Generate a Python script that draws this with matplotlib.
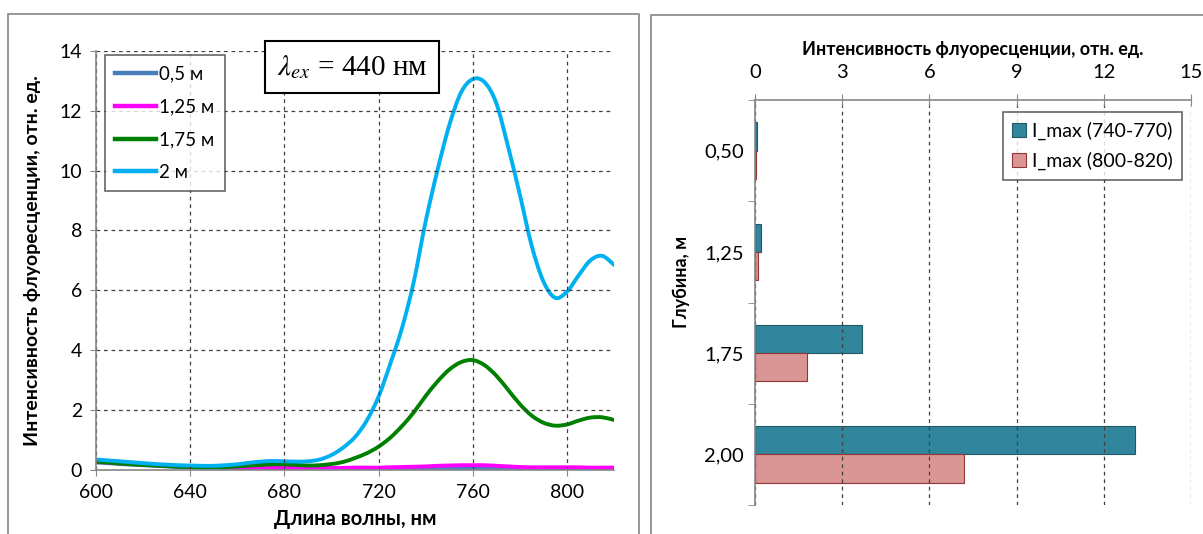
import numpy as np
import matplotlib
matplotlib.use("Agg")
import matplotlib.pyplot as plt
from matplotlib.patches import Rectangle, PathPatch
from matplotlib.path import Path
from matplotlib.lines import Line2D

plt.rcParams['font.family'] = ['Lato', 'DejaVu Sans']
plt.rcParams['mathtext.fontset'] = 'stix'

# Спектры флуоресценции (нм / отн. ед.)
wl = list(range(600, 825, 5))
I_05 = [0.25, 0.23, 0.20, 0.18, 0.16, 0.14, 0.12, 0.10, 0.09, 0.08, 0.07, 0.06, 0.05, 0.05, 0.04,
        0.04, 0.03, 0.03, 0.03, 0.02, 0.02, 0.02, 0.02, 0.02, 0.02, 0.02, 0.03, 0.03, 0.03, 0.03,
        0.04, 0.04, 0.04, 0.04, 0.03, 0.03, 0.02, 0.02, 0.02, 0.02, 0.02, 0.02, 0.02, 0.02, 0.02]
I_125 = [0.27, 0.25, 0.22, 0.20, 0.18, 0.16, 0.14, 0.12, 0.11, 0.10, 0.09, 0.09, 0.08, 0.08, 0.08,
         0.07, 0.07, 0.07, 0.07, 0.07, 0.07, 0.07, 0.08, 0.08, 0.08, 0.09, 0.10, 0.11, 0.12, 0.14,
         0.15, 0.16, 0.16, 0.16, 0.14, 0.12, 0.10, 0.09, 0.09, 0.09, 0.09, 0.09, 0.08, 0.08, 0.08]
I_175 = [0.28, 0.25, 0.22, 0.19, 0.17, 0.15, 0.13, 0.11, 0.10, 0.09, 0.09, 0.10, 0.12, 0.15, 0.17,
         0.19, 0.19, 0.17, 0.15, 0.16, 0.20, 0.27, 0.40, 0.56, 0.78, 1.08, 1.47, 1.93, 2.47, 2.95,
         3.35, 3.60, 3.67, 3.50, 3.15, 2.68, 2.20, 1.82, 1.58, 1.48, 1.52, 1.65, 1.75, 1.76, 1.67]
I_2 = [0.35, 0.32, 0.29, 0.26, 0.23, 0.20, 0.18, 0.16, 0.15, 0.14, 0.14, 0.16, 0.19, 0.24, 0.28,
       0.30, 0.29, 0.28, 0.29, 0.35, 0.50, 0.75, 1.10, 1.65, 2.45, 3.55, 4.75, 6.30, 8.30, 10.0,
       11.5, 12.6, 13.05, 12.95, 12.25, 10.8, 9.2, 7.5, 6.3, 5.75, 5.95, 6.5, 7.0, 7.15, 6.85]

series_labels = ['0,5 м', '1,25 м', '1,75 м', '2 м']
series_colors = ['#4A7EBB', '#FF00FF', '#008000', '#00B0F0']

# Максимумы по глубинам
depths = ['0,50', '1,25', '1,75', '2,00']
imax_740 = [0.07, 0.19, 3.67, 13.07]
imax_800 = [0.03, 0.10, 1.78, 7.18]


def smooth_path(x, y):
    # сглаженная линия как в Excel (кривые Безье через точки)
    p = np.column_stack([x, y]).astype(float)
    n = len(p)
    verts = [p[0]]
    codes = [Path.MOVETO]
    for i in range(n - 1):
        p0 = p[max(i - 1, 0)]
        p1 = p[i]
        p2 = p[i + 1]
        p3 = p[min(i + 2, n - 1)]
        verts += [p1 + (p2 - p0) / 6, p2 - (p3 - p1) / 6, p2]
        codes += [Path.CURVE4] * 3
    return Path(verts, codes)


fig = plt.figure(figsize=(12.03, 5.34), dpi=100)

# рамки панелей
fig.patches.append(Rectangle((8 / 1203, -0.1), 631 / 1203, 1.1 - 14 / 534,
                             transform=fig.transFigure, fill=False, ec='#868686', lw=1.2))
fig.patches.append(Rectangle((651 / 1203, -0.1), 0.6, 1.1 - 15 / 534,
                             transform=fig.transFigure, fill=False, ec='#868686', lw=1.2))

# ---------------- левый график ----------------
ax = fig.add_axes([96 / 1203, 1 - 470 / 534, 518 / 1203, 419.3 / 534])
handles = []
for yy, lab, col in zip([I_05, I_125, I_175, I_2], series_labels, series_colors):
    ax.add_patch(PathPatch(smooth_path(wl, yy), fill=False, ec=col, lw=2.8,
                           capstyle='round', joinstyle='round'))
    handles.append(Line2D([], [], color=col, lw=3.2, label=lab))
ax.set_xlim(600, 820)
ax.set_ylim(0, 14)
ax.set_xticks(range(600, 820, 40))
ax.set_yticks(range(0, 15, 2))
ax.grid(True, linestyle=(0, (3, 3)), color='#404040', lw=0.9)
for s in ['top', 'right']:
    ax.spines[s].set_visible(False)
for s in ['left', 'bottom']:
    ax.spines[s].set_color('#868686')
    ax.spines[s].set_linewidth(1.2)
ax.tick_params(colors='#868686', labelcolor='black', labelsize=14, length=4, direction='out', pad=6)
ax.set_xlabel('Длина волны, нм', fontsize=14.5, fontweight='bold', labelpad=6)
ax.set_ylabel('Интенсивность флуоресценции, отн. ед.', fontsize=14, fontweight='bold')
ax.yaxis.set_label_coords(-0.106, 0.5)
leg = ax.legend(handles=handles, loc='upper left', bbox_to_anchor=(0.017, 0.99), fontsize=13.5,
                frameon=True, fancybox=False, edgecolor='#404040', handlelength=2.2,
                handletextpad=0.15, labelspacing=0.85, borderpad=0.55, borderaxespad=0)
leg.get_frame().set_linewidth(1.2)
ax.text(0.494, 0.961, r'$\lambda_{ex}$ = 440 нм', transform=ax.transAxes, ha='center', va='center',
        fontsize=21, family=['Liberation Serif', 'DejaVu Serif'],
        bbox=dict(boxstyle='square,pad=0.4', fc='white', ec='black', lw=1.5))

# ---------------- правый график ----------------
bx = fig.add_axes([755 / 1203, 1 - 505 / 534, 436 / 1203, 405 / 534])
pos = np.arange(len(depths))
h = 0.28
bx.barh(pos - h / 2, imax_740, height=h, color='#31859C', edgecolor='#215968', lw=0.8,
        label='I_max (740-770)')
bx.barh(pos + h / 2, imax_800, height=h, color='#D99694', edgecolor='#953735', lw=0.8,
        label='I_max (800-820)')
bx.set_xlim(0, 15)
bx.set_ylim(3.5, -0.5)
bx.set_xticks(range(0, 16, 3))
bx.set_yticks(pos)
bx.set_yticklabels(depths)
bx.set_yticks(np.arange(-0.5, 3.6, 1), minor=True)
bx.xaxis.tick_top()
bx.xaxis.set_label_position('top')
bx.grid(True, axis='x', linestyle=(0, (3, 3)), color='#404040', lw=0.9)
for s in ['bottom', 'right']:
    bx.spines[s].set_visible(False)
for s in ['left', 'top']:
    bx.spines[s].set_color('#868686')
    bx.spines[s].set_linewidth(1.2)
bx.tick_params(axis='x', colors='#868686', labelcolor='black', labelsize=14.5, direction='inout',
               length=8, pad=10)
bx.tick_params(axis='y', which='major', length=0, labelsize=14.5, pad=8)
bx.tick_params(axis='y', which='minor', length=5, color='#868686')
bx.set_xlabel('Интенсивность флуоресценции, отн. ед.', fontsize=13, fontweight='bold', labelpad=6)
bx.set_ylabel('Глубина, м', fontsize=13, fontweight='bold')
bx.yaxis.set_label_coords(-0.149, 0.55)
leg2 = bx.legend(loc='upper right', bbox_to_anchor=(0.98, 0.97), fontsize=14, frameon=True,
                 fancybox=False, edgecolor='#404040', handlelength=0.7, handleheight=0.7,
                 handletextpad=0.3, labelspacing=0.6, borderpad=0.5, borderaxespad=0)
leg2.get_frame().set_linewidth(1.2)

fig.savefig('out.png', dpi=100)
